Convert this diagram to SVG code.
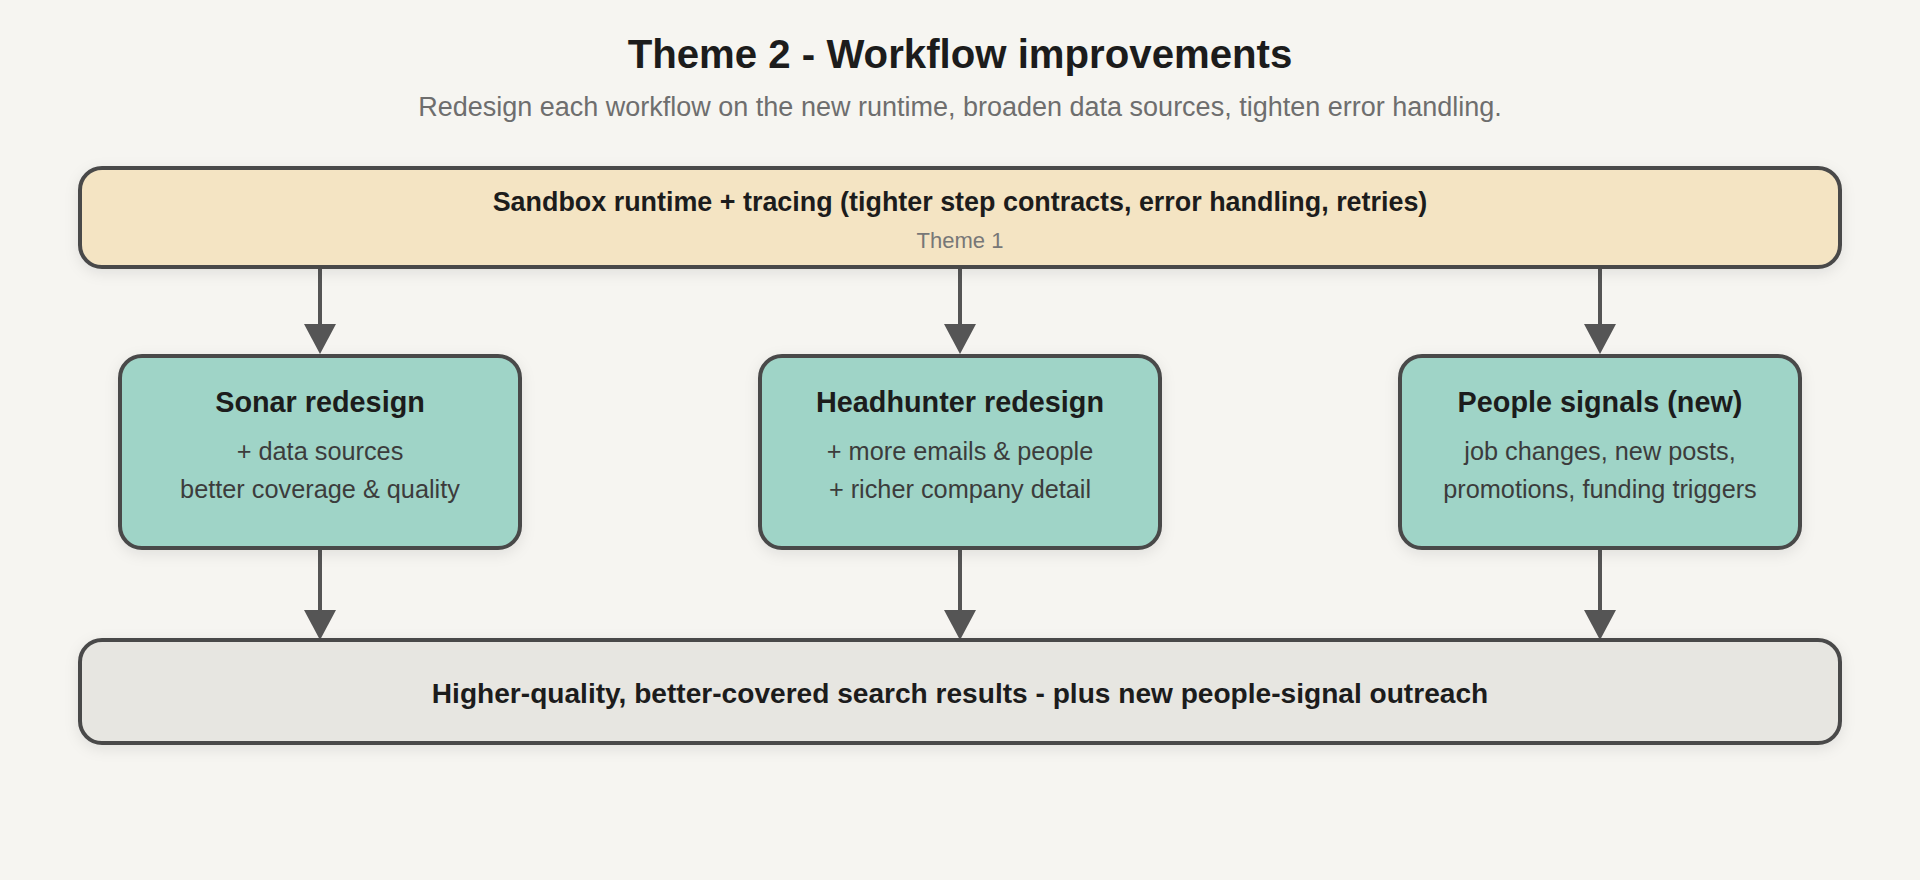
<svg xmlns="http://www.w3.org/2000/svg" width="1920" height="880" viewBox="0 0 1920 880">
  <style>
    text { font-family: "Liberation Sans", Arial, sans-serif; text-anchor: middle; }
    .title { font-size: 40.2px; font-weight: 700; fill: #1c1c1c; }
    .subtitle { font-size: 27px; fill: #6e6e6e; }
    .box { stroke: #4a4a4a; stroke-width: 4; }
    .base { fill: #f4e4c3; }
    .work { fill: #9fd4c7; }
    .out { fill: #e7e6e1; }
    .head { font-size: 26.9px; font-weight: 700; fill: #1c1c1c; }
    .note { font-size: 22px; fill: #777777; }
    .ntitle { font-size: 28.8px; font-weight: 700; fill: #1c1c1c; }
    .body { font-size: 25.3px; fill: #3c3c3c; }
    .outtext { font-size: 28.1px; font-weight: 700; fill: #1c1c1c; }
    .conn { stroke: #555555; stroke-width: 4; fill: none; marker-end: url(#arrow); }
  </style>
  <defs>
    <marker id="arrow" markerUnits="userSpaceOnUse" viewBox="0 0 30 32" refX="0" refY="16" markerWidth="30" markerHeight="32" orient="auto">
      <path d="M0,0 L30,16 L0,32 Z" fill="#555555"/>
    </marker>
    <filter id="shadow" x="-10%" y="-20%" width="120%" height="150%">
      <feDropShadow dx="0" dy="4" stdDeviation="7" flood-color="#000000" flood-opacity="0.09"/>
    </filter>
  </defs>

  <rect width="1920" height="880" fill="#f6f5f1"/>

  <g id="header">
    <text class="title" x="960" y="68">Theme 2 - Workflow improvements</text>
    <text class="subtitle" x="960" y="116">Redesign each workflow on the new runtime, broaden data sources, tighten error handling.</text>
  </g>

  <g id="connectors">
    <path class="conn" d="M320,268 L320,324"/>
    <path class="conn" d="M960,268 L960,324"/>
    <path class="conn" d="M1600,268 L1600,324"/>
    <path class="conn" d="M320,548 L320,610"/>
    <path class="conn" d="M960,548 L960,610"/>
    <path class="conn" d="M1600,548 L1600,610"/>
  </g>

  <g id="runtime">
    <rect class="box base" x="80" y="168" width="1760" height="99" rx="22" filter="url(#shadow)"/>
    <text class="head" x="960" y="211">Sandbox runtime + tracing (tighter step contracts, error handling, retries)</text>
    <text class="note" x="960" y="248">Theme 1</text>
  </g>

  <g id="sonar">
    <rect class="box work" x="120" y="356" width="400" height="192" rx="22" filter="url(#shadow)"/>
    <text class="ntitle" x="320" y="412">Sonar redesign</text>
    <text class="body" x="320" y="460">+ data sources</text>
    <text class="body" x="320" y="498">better coverage &amp; quality</text>
  </g>

  <g id="headhunter">
    <rect class="box work" x="760" y="356" width="400" height="192" rx="22" filter="url(#shadow)"/>
    <text class="ntitle" x="960" y="412">Headhunter redesign</text>
    <text class="body" x="960" y="460">+ more emails &amp; people</text>
    <text class="body" x="960" y="498">+ richer company detail</text>
  </g>

  <g id="people">
    <rect class="box work" x="1400" y="356" width="400" height="192" rx="22" filter="url(#shadow)"/>
    <text class="ntitle" x="1600" y="412">People signals (new)</text>
    <text class="body" x="1600" y="460">job changes, new posts,</text>
    <text class="body" x="1600" y="498">promotions, funding triggers</text>
  </g>

  <g id="outcome">
    <rect class="box out" x="80" y="640" width="1760" height="103" rx="22" filter="url(#shadow)"/>
    <text class="outtext" x="960" y="703">Higher-quality, better-covered search results - plus new people-signal outreach</text>
  </g>
</svg>
